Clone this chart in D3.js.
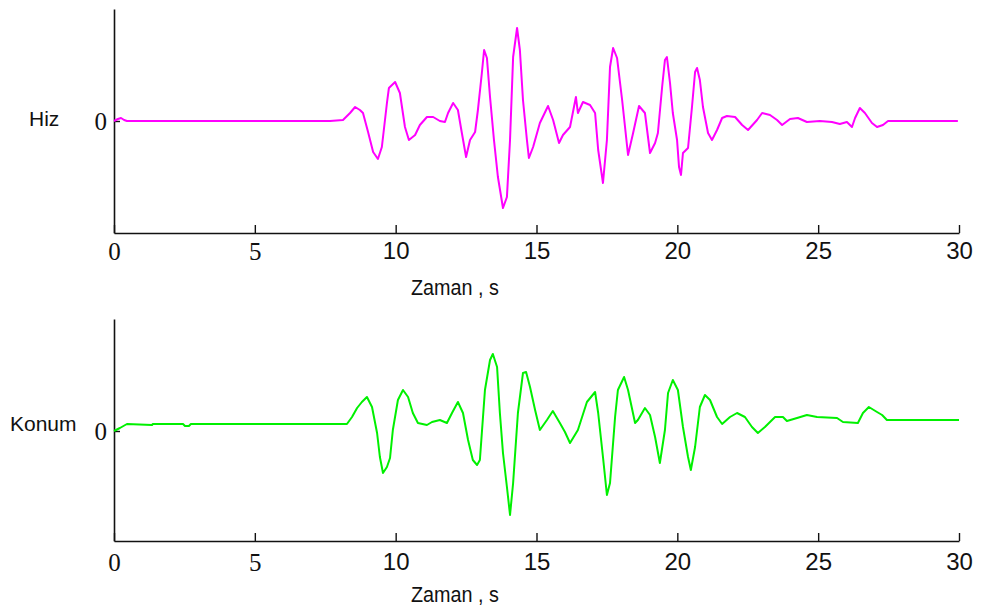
<!DOCTYPE html>
<html>
<head>
<meta charset="utf-8">
<script src="https://cdn.jsdelivr.net/npm/d3@7/dist/d3.min.js"></script>
<style>
  html, body { margin: 0; padding: 0; background: #fff; }
  svg { display: block; }
</style>
</head>
<body>
<svg id="chart" width="981" height="610"></svg>
<script>
// ---- data (time in s, normalized amplitude) ----
const xTicks = [0, 5, 10, 15, 20, 25, 30];
const xLabel = "Zaman , s";
const topLabel = "Hiz";
const bottomLabel = "Konum";

const hizT = [0,0.14,0.25,0.36,0.46,7.67,8.13,8.38,8.56,8.73,8.84,9.02,9.20,9.37,9.51,9.69,9.76,9.98,10.15,10.33,10.47,10.69,10.86,11.11,11.33,11.57,11.75,11.86,12.04,12.21,12.35,12.50,12.64,12.82,12.92,13.06,13.14,13.24,13.35,13.49,13.63,13.81,13.95,14.06,14.17,14.31,14.41,14.52,14.66,14.73,14.88,15.12,15.41,15.59,15.80,15.94,16.19,16.40,16.47,16.65,16.90,17.08,17.19,17.36,17.50,17.61,17.72,17.86,18.04,18.25,18.43,18.64,18.85,19.03,19.21,19.31,19.46,19.56,19.63,19.74,19.84,19.99,20.06,20.13,20.20,20.38,20.52,20.63,20.70,20.80,20.91,21.09,21.23,21.41,21.59,21.76,22.05,22.30,22.51,22.83,23.01,23.29,23.54,23.72,24.00,24.28,24.60,25.06,25.49,25.77,26.02,26.20,26.31,26.48,26.66,26.91,27.09,27.30,27.48,29.96];
const hizV = [0,0.02,0.03,0.01,0,0,0.01,0.08,0.14,0.11,0.08,-0.11,-0.31,-0.38,-0.26,0.18,0.33,0.39,0.28,-0.06,-0.19,-0.14,-0.04,0.04,0.04,0,-0.01,0.08,0.18,0.11,-0.12,-0.36,-0.19,-0.11,0.11,0.48,0.71,0.63,0.24,-0.19,-0.56,-0.87,-0.76,-0.19,0.64,0.93,0.71,0.21,-0.19,-0.37,-0.26,-0.02,0.15,0.01,-0.22,-0.14,-0.06,0.24,0.08,0.19,0.16,0.08,-0.29,-0.62,-0.19,0.54,0.73,0.63,0.21,-0.34,-0.12,0.15,0.08,-0.32,-0.22,-0.12,0.34,0.61,0.64,0.38,0.08,-0.19,-0.46,-0.54,-0.32,-0.27,0.14,0.49,0.53,0.41,0.14,-0.12,-0.19,-0.09,0.03,0.05,0.04,-0.04,-0.09,0.01,0.08,0.06,0.01,-0.04,0.02,0.03,-0.01,0,-0.01,-0.03,-0.01,-0.06,0.03,0.13,0.08,-0.02,-0.06,-0.04,0,0];

const konumT = [0,0.21,0.46,1.35,1.38,2.45,2.52,2.66,2.73,7.67,8.27,8.45,8.63,8.80,8.98,9.16,9.34,9.44,9.55,9.69,9.80,9.90,10.08,10.26,10.44,10.61,10.79,11.11,11.29,11.57,11.82,12.00,12.21,12.39,12.57,12.74,12.89,12.99,13.17,13.35,13.45,13.60,13.70,13.81,13.95,14.06,14.17,14.34,14.52,14.63,14.77,14.95,15.12,15.37,15.58,15.83,16.01,16.19,16.47,16.79,17.08,17.19,17.36,17.50,17.61,17.79,17.89,18.11,18.25,18.50,18.60,18.85,19.03,19.21,19.38,19.56,19.67,19.84,20.02,20.20,20.38,20.48,20.63,20.80,20.98,21.16,21.41,21.59,21.87,22.12,22.40,22.65,22.86,23.11,23.47,23.75,23.89,24.25,24.60,24.96,25.67,25.88,26.41,26.59,26.80,27.09,27.27,27.44,30];
const konumV = [0,0.03,0.07,0.06,0.07,0.07,0.05,0.05,0.07,0.07,0.07,0.14,0.23,0.29,0.34,0.24,-0.02,-0.26,-0.42,-0.36,-0.27,0.01,0.31,0.41,0.34,0.18,0.08,0.06,0.09,0.11,0.08,0.18,0.29,0.18,-0.09,-0.29,-0.34,-0.29,0.41,0.71,0.77,0.64,0.18,-0.22,-0.56,-0.84,-0.52,0.18,0.58,0.59,0.44,0.21,0.01,0.11,0.20,0.08,-0.01,-0.12,0.01,0.29,0.39,0.18,-0.26,-0.64,-0.52,0.14,0.41,0.54,0.41,0.08,0.11,0.23,0.16,-0.06,-0.32,0.01,0.38,0.51,0.41,0.04,-0.26,-0.39,-0.16,0.24,0.36,0.31,0.14,0.07,0.14,0.18,0.14,0.04,-0.02,0.04,0.14,0.14,0.10,0.13,0.16,0.14,0.13,0.09,0.08,0.18,0.24,0.19,0.16,0.11,0.11];

// ---- drawing ----
const svg = d3.select("#chart");
const x = d3.scaleLinear().domain([0, 30]).range([114, 959]);

const panels = [
  { t: hizT, v: hizV, color: "#ff00ff", label: topLabel, y: d3.scaleLinear().domain([-1.12, 1.12]).range([233, 9]),
    labelX: 29, labelY: 119, xlabY: 287, tickLabY: 18 },
  { t: konumT, v: konumV, color: "#00f000", label: bottomLabel, y: d3.scaleLinear().domain([-1.10, 1.12]).range([541, 319]),
    labelX: 10, labelY: 424, xlabY: 594, tickLabY: 21 }
];

const serifTick = new Set([0, 5]);

panels.forEach(p => {
  const y0 = p.y.range()[0];
  const g = svg.append("g");

  // x axis
  const gx = g.append("g")
    .attr("transform", `translate(0,${y0})`)
    .call(d3.axisBottom(x).tickValues(xTicks).tickSizeInner(-8).tickSizeOuter(0).tickFormat(d3.format("d")));
  gx.select(".domain").attr("stroke", "#111").attr("stroke-width", 1.6);
  gx.selectAll(".tick line").attr("stroke", "#111").attr("stroke-width", 1.4);
  gx.selectAll(".tick text")
    .attr("y", p.tickLabY).attr("dy", "0.35em")
    .attr("fill", "#111")
    .attr("font-family", d => serifTick.has(d) ? "Liberation Serif, serif" : "Liberation Sans, Arial, sans-serif")
    .attr("font-size", d => serifTick.has(d) ? 25 : 24);

  // y axis
  const gy = g.append("g")
    .attr("transform", `translate(114,0)`)
    .call(d3.axisLeft(p.y).tickValues([0]).tickSizeInner(-6).tickSizeOuter(0).tickFormat(d3.format("d")));
  gy.select(".domain").attr("stroke", "#111").attr("stroke-width", 1.6);
  gy.selectAll(".tick line").attr("stroke", "#111").attr("stroke-width", 1.4);
  gy.selectAll(".tick text")
    .attr("x", -7).attr("dy", "0.35em")
    .attr("fill", "#111")
    .attr("font-family", "Liberation Serif, serif")
    .attr("font-size", 25);

  // series line
  const data = p.t.map((t, i) => [t, p.v[i]]);
  g.append("path")
    .datum(data)
    .attr("fill", "none")
    .attr("stroke", p.color)
    .attr("stroke-width", 2)
    .attr("stroke-linejoin", "round")
    .attr("d", d3.line().x(d => x(d[0])).y(d => p.y(d[1])));

  // y-label
  g.append("text")
    .attr("x", p.labelX).attr("y", p.labelY).attr("dy", "0.35em")
    .attr("font-family", "Liberation Sans, Arial, sans-serif")
    .attr("font-size", 21)
    .attr("fill", "#111")
    .text(p.label);

  // x-label
  g.append("text")
    .attr("transform", `translate(455,${p.xlabY}) scale(0.9,1)`)
    .attr("text-anchor", "middle").attr("dy", "0.35em")
    .attr("font-family", "Liberation Sans, Arial, sans-serif")
    .attr("font-size", 22)
    .attr("fill", "#111")
    .text(xLabel);
});
</script>
</body>
</html>
